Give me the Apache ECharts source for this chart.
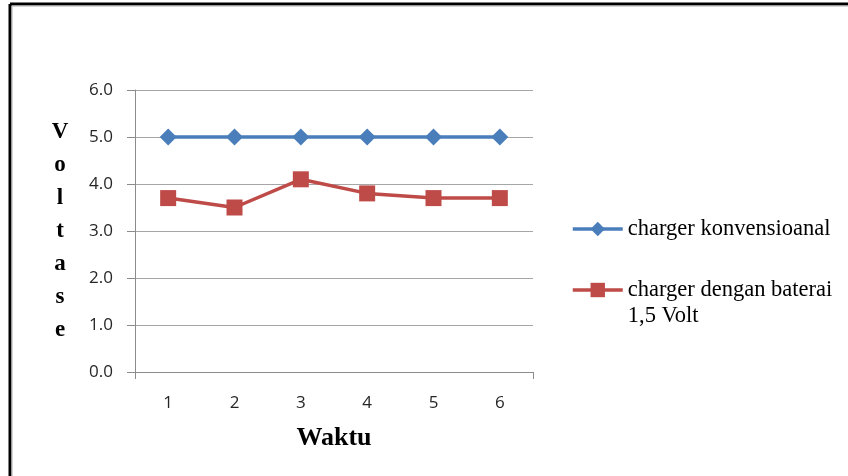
<!DOCTYPE html>
<html>
<head>
<meta charset="utf-8">
<script src="https://cdn.jsdelivr.net/npm/echarts@6/dist/echarts.min.js"></script>
<style>
  html, body { margin: 0; padding: 0; background: #fff; }
  #chart { width: 848px; height: 476px; }
</style>
</head>
<body>
<div id="chart"></div>
<script>
// Measurement times and voltages for the two chargers
const waktu = ['1', '2', '3', '4', '5', '6'];
const konvensional = [5.0, 5.0, 5.0, 5.0, 5.0, 5.0];
const denganBaterai = [3.7, 3.5, 4.1, 3.8, 3.7, 3.7];
const seriesNames = ['charger konvensioanal', 'charger dengan baterai\n1,5 Volt'];

const chart = echarts.init(document.getElementById('chart'), null, { renderer: 'canvas' });

const serif = '"Liberation Serif", "Times New Roman", serif';
const sans = '"Open Sans", "Liberation Sans", sans-serif';

chart.setOption({
  animation: false,
  backgroundColor: '#ffffff',
  grid: { left: 135, right: 315, top: 90, bottom: 104, containLabel: false },
  graphic: [
    // page frame: left and top rule
    { type: 'line', shape: { x1: 10, y1: 4, x2: 10, y2: 476 }, style: { stroke: '#000', lineWidth: 3 } },
    { type: 'line', shape: { x1: 10, y1: 4, x2: 848, y2: 4 }, style: { stroke: '#000', lineWidth: 3 } },
    { type: 'line', shape: { x1: 12, y1: 6, x2: 12, y2: 476 }, style: { stroke: '#b0b0b0', lineWidth: 1 } },
    { type: 'line', shape: { x1: 12, y1: 6, x2: 848, y2: 6 }, style: { stroke: '#b0b0b0', lineWidth: 1 } }
  ],
  legend: {
    orient: 'vertical',
    left: 566,
    top: 211,
    itemWidth: 50,
    itemHeight: 18,
    itemGap: 9,
    lineStyle: { width: 3.5 },
    textStyle: { fontFamily: serif, fontSize: 22.5, color: '#000', lineHeight: 26 },
    // a wrapped name gets a blank first line so its first text line sits beside the icon
    formatter: function (name) {
      return name.indexOf('\n') >= 0 ? ' \n' + name : name;
    },
    data: seriesNames
  },
  xAxis: {
    type: 'category',
    data: waktu,
    boundaryGap: true,
    name: 'Waktu',
    nameLocation: 'middle',
    nameGap: 66,
    nameTextStyle: { fontFamily: serif, fontSize: 26, fontWeight: 'bold', color: '#000', verticalAlign: 'middle' },
    axisLine: { lineStyle: { color: '#8c8c8c', width: 1 } },
    axisTick: { show: true, length: 7, interval: function (i) { return i === 0; }, lineStyle: { color: '#8c8c8c' } },
    axisLabel: { fontFamily: sans, fontSize: 17, color: '#262626', margin: 23 },
    splitLine: { show: false }
  },
  yAxis: {
    type: 'value',
    min: 0,
    max: 6,
    interval: 1,
    name: 'V\no\nl\nt\na\ns\ne',
    nameLocation: 'middle',
    nameRotate: 0,
    nameGap: 75,
    nameTextStyle: { fontFamily: serif, fontSize: 23, fontWeight: 'bold', color: '#000', lineHeight: 33, align: 'center', verticalAlign: 'middle' },
    axisLine: { show: true, lineStyle: { color: '#8c8c8c', width: 1 } },
    axisTick: { show: true, length: 8, lineStyle: { color: '#8c8c8c' } },
    axisLabel: { fontFamily: sans, fontSize: 17, color: '#262626', margin: 22, formatter: v => v.toFixed(1) },
    splitLine: { show: true, lineStyle: { color: '#a6a6a6', width: 1 } }
  },
  series: [
    {
      name: seriesNames[0],
      type: 'line',
      data: konvensional,
      symbol: 'diamond',
      symbolSize: 17,
      itemStyle: { color: '#4a7ebb' },
      lineStyle: { color: '#4a7ebb', width: 3.5 }
    },
    {
      name: seriesNames[1],
      type: 'line',
      data: denganBaterai,
      symbol: 'rect',
      symbolSize: 16,
      itemStyle: { color: '#be4b48' },
      lineStyle: { color: '#be4b48', width: 3.5 }
    }
  ]
});
</script>
</body>
</html>
